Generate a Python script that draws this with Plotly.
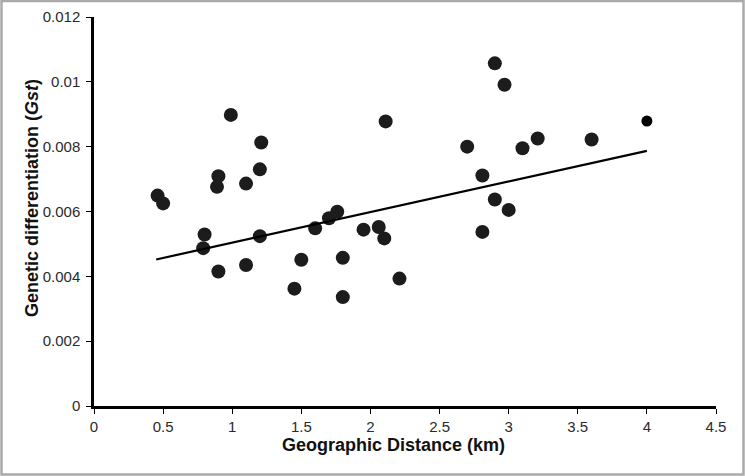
import plotly.graph_objects as go

# geographic distance (km) vs genetic differentiation (Gst)
dist = [0.46, 0.50, 0.99, 1.21, 1.20, 0.90, 0.89, 1.10, 0.80, 0.79,
        1.20, 0.90, 1.10, 1.60, 1.70, 1.76, 1.50, 1.45, 1.80, 1.80,
        1.95, 2.06, 2.10, 2.21, 2.11, 2.90, 2.97, 2.70, 3.10, 3.21,
        3.60, 2.81, 2.90, 3.00, 2.81]
gst = [0.00649, 0.00625, 0.00898, 0.00813, 0.00730, 0.00709, 0.00676, 0.00686, 0.00529, 0.00487,
       0.00524, 0.00415, 0.00435, 0.00548, 0.00579, 0.00599, 0.00451, 0.00362, 0.00457, 0.00336,
       0.00544, 0.00552, 0.00517, 0.00393, 0.00878, 0.01057, 0.00991, 0.00800, 0.00795, 0.00825,
       0.00822, 0.00711, 0.00637, 0.00605, 0.00537]

# last point drawn slightly smaller in the original
edge_dist = [4.0]
edge_gst = [0.00879]

# linear trendline end points
trend_x = [0.45, 4.0]
trend_y = [0.00452, 0.00787]

fig = go.Figure()
fig.add_trace(go.Scatter(
    x=dist, y=gst, mode="markers",
    marker=dict(size=14, color="#1c1c1c"), showlegend=False,
))
fig.add_trace(go.Scatter(
    x=edge_dist, y=edge_gst, mode="markers",
    marker=dict(size=11, color="#000000"), showlegend=False,
))
fig.add_trace(go.Scatter(
    x=trend_x, y=trend_y, mode="lines",
    line=dict(color="black", width=2.2), showlegend=False,
))

L, R, T, B = 94, 29, 17, 70
W, H = 745, 476
pw, ph = W - L - R, H - T - B

# titles are centred on the chart area (Excel style), not on the plot box
title_font = dict(family="Liberation Sans, Arial, sans-serif", size=18, color="#111111")
fig.add_annotation(
    text="<b>Geographic Distance (km)</b>", showarrow=False,
    xref="paper", yref="paper", x=(393 - L) / pw, y=-(445 - (H - B)) / ph,
    xanchor="center", yanchor="middle", font=title_font,
)
fig.add_annotation(
    text="<b>Genetic differentiation (<i>Gst</i>)</b>", showarrow=False, textangle=-90,
    xref="paper", yref="paper", x=(32 - L) / pw, y=((H - B) - 198) / ph,
    xanchor="center", yanchor="middle", font=title_font,
)

fig.update_layout(
    width=W, height=H,
    margin=dict(l=L, r=R, t=T, b=B),
    paper_bgcolor="white", plot_bgcolor="white",
    font=dict(family="Liberation Sans, Arial, sans-serif", color="#222222"),
    shapes=[dict(
        type="rect", xref="paper", yref="paper",
        x0=-(L - 1.5) / pw, x1=1 + (R - 1.5) / pw,
        y0=-(B - 1.5) / ph, y1=1 + (T - 1) / ph,
        line=dict(color="#aaaaaa", width=2.5), layer="below",
    )],
)
fig.update_xaxes(
    range=[0, 4.5], dtick=0.5, tick0=0, automargin=False,
    showgrid=False, zeroline=False,
    showline=True, linecolor="black", linewidth=2.5,
    ticks="outside", ticklen=5, tickcolor="black", tickwidth=1,
    tickfont=dict(size=15, color="#2a2a2a"),
)
fig.update_yaxes(
    range=[0, 0.012], dtick=0.002, tick0=0, automargin=False,
    tickformat="~g",
    showgrid=False, zeroline=False,
    showline=True, linecolor="black", linewidth=2.5,
    ticks="outside", ticklen=5, tickcolor="black", tickwidth=1,
    ticklabelstandoff=3,
    tickfont=dict(size=15, color="#2a2a2a"),
)

# page body margin would push the figure off the window edges
fig.write_html("out.html", config={"displayModeBar": False},
               post_script="document.body.style.margin='0';")
